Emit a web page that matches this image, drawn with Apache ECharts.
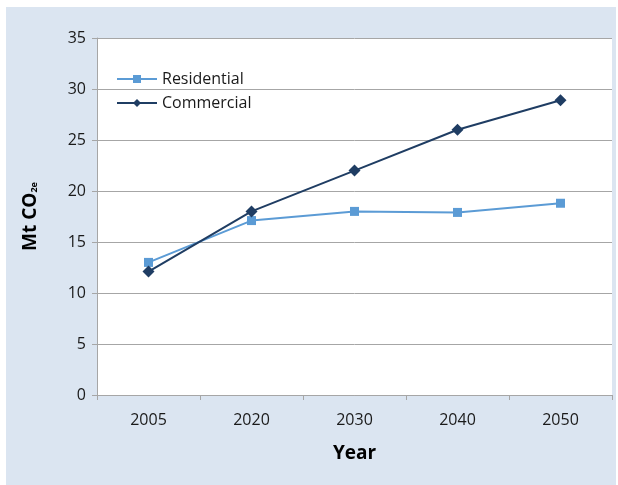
<!DOCTYPE html>
<html>
<head>
<meta charset="utf-8">
<script src="https://cdn.jsdelivr.net/npm/echarts@6/dist/echarts.min.js"></script>
<style>
  html, body { margin: 0; padding: 0; background: #ffffff; }
  #chart { width: 618px; height: 485px; }
</style>
</head>
<body>
<div id="chart"></div>
<script>
// Emissions by building sector, Mt CO2e
const years = ['2005', '2020', '2030', '2040', '2050'];
const residential = [13.0, 17.1, 18.0, 17.9, 18.8];
const commercial = [12.1, 18.0, 22.0, 26.0, 28.9];
const yTicks = { min: 0, max: 35, step: 5 };

const FONT = '"Open Sans", "Noto Sans", sans-serif';
const AXIS_GRAY = '#a6a6a6';
const RES_COLOR = '#5b9bd5';
const COM_COLOR = '#1f3d63';

const chart = echarts.init(document.getElementById('chart'), null, { renderer: 'canvas' });

chart.setOption({
  animation: false,
  backgroundColor: '#ffffff',
  graphic: [{
    type: 'rect',
    z: -10,
    silent: true,
    shape: { x: 6, y: 7, width: 610, height: 478 },
    style: { fill: '#dbe5f1' }
  }],
  grid: {
    left: 97, right: 6, top: 38, bottom: 90,
    show: true, backgroundColor: '#ffffff', borderWidth: 0
  },
  legend: {
    left: 111, top: 66,
    orient: 'vertical',
    itemWidth: 40, itemHeight: 10, itemGap: 8,
    textStyle: { fontFamily: FONT, fontSize: 16, color: '#1a1a1a' },
    data: ['Residential', 'Commercial']
  },
  xAxis: {
    type: 'category',
    data: years,
    boundaryGap: true,
    name: 'Year',
    nameLocation: 'middle',
    nameGap: 49,
    nameTextStyle: { fontFamily: FONT, fontSize: 19, fontWeight: 'bold', color: '#000000' },
    axisLine: { lineStyle: { color: AXIS_GRAY, width: 1 } },
    axisTick: { show: true, length: 5, alignWithLabel: false, lineStyle: { color: AXIS_GRAY } },
    axisLabel: { fontFamily: FONT, fontSize: 16, color: '#1a1a1a', margin: 17 },
    splitLine: { show: false }
  },
  yAxis: {
    type: 'value',
    min: yTicks.min, max: yTicks.max, interval: yTicks.step,
    name: '{a|Mt CO}{b|2e}',
    nameLocation: 'middle',
    nameRotate: 90,
    nameGap: 57,
    nameTextStyle: {
      rich: {
        a: { fontFamily: FONT, fontSize: 19, fontWeight: 'bold', color: '#000000', lineHeight: 24, verticalAlign: 'bottom' },
        b: { fontFamily: FONT, fontSize: 9, fontWeight: 'bold', color: '#000000', lineHeight: 24, verticalAlign: 'bottom', padding: [0, 0, 1, 0] }
      }
    },
    axisLine: { show: true, lineStyle: { color: AXIS_GRAY, width: 1 } },
    axisTick: { show: true, length: 5, lineStyle: { color: AXIS_GRAY } },
    axisLabel: { fontFamily: FONT, fontSize: 16, color: '#1a1a1a', margin: 11 },
    splitLine: { show: true, lineStyle: { color: AXIS_GRAY, width: 1 } }
  },
  series: [
    {
      name: 'Residential',
      type: 'line',
      data: residential,
      symbol: 'rect',
      symbolSize: 9,
      lineStyle: { color: RES_COLOR, width: 2 },
      itemStyle: { color: RES_COLOR },
      z: 2
    },
    {
      name: 'Commercial',
      type: 'line',
      data: commercial,
      symbol: 'diamond',
      symbolSize: 12,
      lineStyle: { color: COM_COLOR, width: 2 },
      itemStyle: { color: COM_COLOR },
      z: 3
    }
  ]
});
</script>
</body>
</html>
